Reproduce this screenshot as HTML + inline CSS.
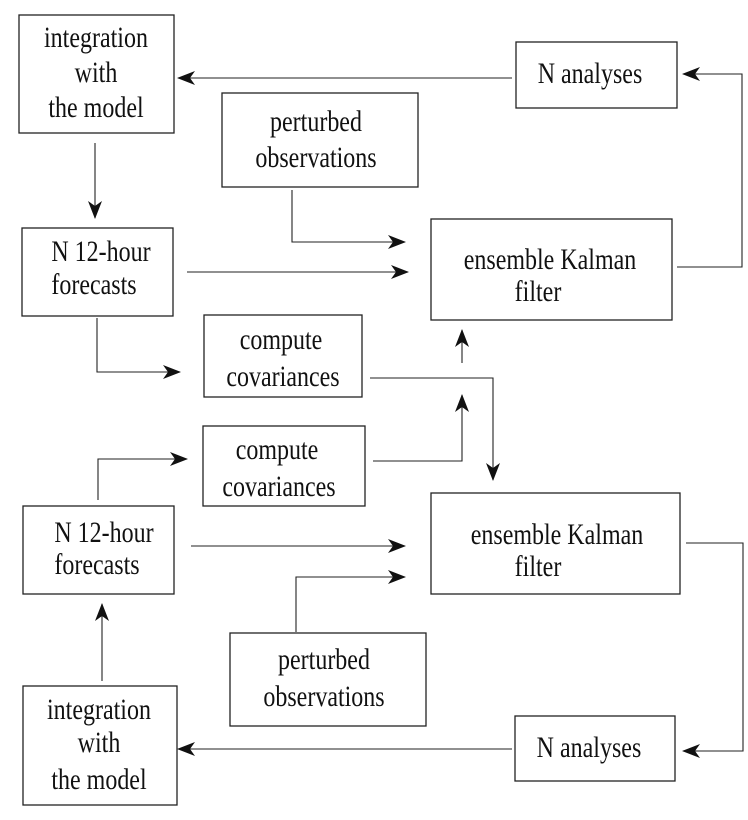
<!DOCTYPE html>
<html><head><meta charset="utf-8"><style>
html,body{margin:0;padding:0;background:#fff}
svg{display:block}
</style></head><body>
<svg width="748" height="820" viewBox="0 0 748 820" xmlns="http://www.w3.org/2000/svg">
<defs>
<marker id="a" markerWidth="18" markerHeight="14" refX="17" refY="7" orient="auto" markerUnits="userSpaceOnUse">
<path d="M0,0 L18,7 L0,14 L5,7 Z" fill="#111"/>
</marker>
</defs>
<g fill="none" stroke="#222" stroke-width="1.3">
<rect x="19" y="15" width="155" height="118"/>
<rect x="516" y="42" width="161" height="66"/>
<rect x="222" y="93" width="196" height="94"/>
<rect x="22" y="228" width="151" height="88"/>
<rect x="431" y="219" width="241" height="101"/>
<rect x="204" y="315" width="158" height="82"/>
<rect x="203" y="426" width="162" height="80"/>
<rect x="23" y="506" width="151" height="88"/>
<rect x="431" y="493" width="249" height="101"/>
<rect x="230" y="633" width="196" height="93"/>
<rect x="23" y="686" width="154" height="119"/>
<rect x="515" y="716" width="160" height="65"/>
</g>
<g fill="none" stroke="#222" stroke-width="1.1" marker-end="url(#a)">
<path d="M512,78 L178,78"/>
<path d="M677,267 L742,267 L742,74 L683,74"/>
<path d="M95,143 L95,218"/>
<path d="M292,190 L292,242 L405,242"/>
<path d="M187,272 L408,272"/>
<path d="M97,318 L97,372 L180,372"/>
<path d="M370,378 L493,378 L493,480"/>
<path d="M462,363 L462,330"/>
<path d="M373,461 L462,461 L462,395"/>
<path d="M98,500 L98,459 L187,459"/>
<path d="M191,546 L405,546"/>
<path d="M296,632 L296,577 L405,577"/>
<path d="M102,681 L102,604"/>
<path d="M686,543 L743,543 L743,751 L683,751"/>
<path d="M512,749 L178,749"/>
</g>
<g font-family="'Liberation Serif','Times New Roman','DejaVu Serif',serif" font-size="24" fill="#111" text-anchor="middle" transform="scale(1,1.25)">
<text x="96" y="37.6">integration</text>
<text x="96" y="65.6">with</text>
<text x="96" y="93.6">the model</text>
<text x="590" y="66.4">N analyses</text>
<text x="316" y="104.8">perturbed</text>
<text x="316" y="133.6">observations</text>
<text x="101" y="208.8">N 12-hour</text>
<text x="94" y="235.2">forecasts</text>
<text x="550" y="215.2">ensemble Kalman</text>
<text x="538" y="240.8">filter</text>
<text x="281" y="279.2">compute</text>
<text x="283" y="308.8">covariances</text>
<text x="277" y="367.2">compute</text>
<text x="279" y="396.8">covariances</text>
<text x="104" y="433.6">N 12-hour</text>
<text x="97" y="459.2">forecasts</text>
<text x="557" y="435.2">ensemble Kalman</text>
<text x="538" y="460.8">filter</text>
<text x="324" y="535.2">perturbed</text>
<text x="324" y="564.8">observations</text>
<text x="99" y="575.2">integration</text>
<text x="99" y="601.6">with</text>
<text x="99" y="631.2">the model</text>
<text x="589" y="605.6">N analyses</text>
</g>
</svg>
</body></html>
